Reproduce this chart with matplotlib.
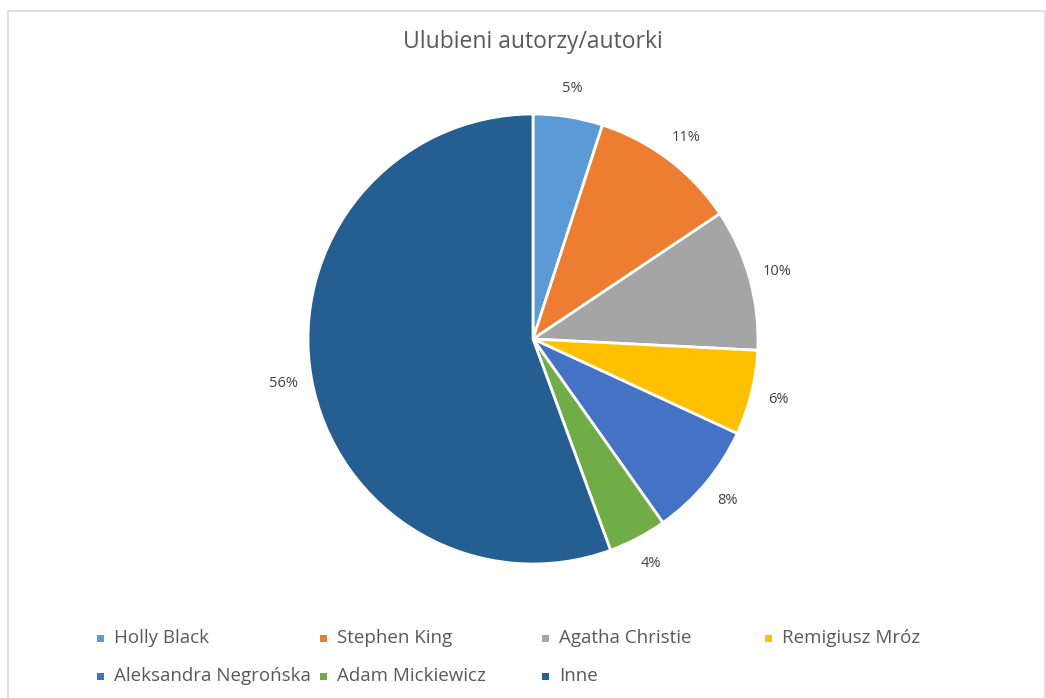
import matplotlib
matplotlib.use("Agg")
import matplotlib.pyplot as plt
from matplotlib.patches import Rectangle

plt.rcParams['font.family'] = ['Open Sans', 'DejaVu Sans']

# data (percent of answers)
authors = ['Holly Black', 'Stephen King', 'Agatha Christie', 'Remigiusz Mróz',
           'Aleksandra Negrońska', 'Adam Mickiewicz', 'Inne']
shares = [5.0, 10.6, 10.2, 6.1, 8.3, 4.2, 55.6]
colors = ['#5B9BD5', '#ED7D31', '#A5A5A5', '#FFC000', '#4472C4', '#70AD47', '#255E91']

W, H = 1046, 698
fig = plt.figure(figsize=(W / 100, H / 100), dpi=100)

# chart frame
fig.patches.append(Rectangle((8 / W, -0.01), (1045 - 8) / W, 1 - 11 / H + 0.01,
                             transform=fig.transFigure, fill=False,
                             edgecolor='#d9d9d9', linewidth=1.2))

cx, cy, r = 533, 339, 225
ax = fig.add_axes([(cx - r) / W, (H - cy - r) / H, 2 * r / W, 2 * r / H])
wedges, texts, autotexts = ax.pie(
    shares, colors=colors, startangle=90, counterclock=False,
    autopct='%1.0f%%', pctdistance=1.125,
    wedgeprops=dict(edgecolor='white', linewidth=2),
    textprops=dict(color='#404040', fontsize=10.5))
ax.set_xlim(-1, 1)
ax.set_ylim(-1, 1)
ax.set_aspect('equal')
ax.axis('off')

fig.text(cx / W, 1 - 42 / H, 'Ulubieni autorzy/autorki', ha='center', va='center',
         fontsize=16.5, color='#595959')

# legend laid out like the spreadsheet one: 4 columns, 2 rows
col_x = [97, 320, 542, 765]
row_y = [638, 676]
for i, (name, c) in enumerate(zip(authors, colors)):
    x = col_x[i % 4]
    y = row_y[i // 4]
    fig.patches.append(Rectangle((x / W, (H - y - 3.5) / H), 7 / W, 7 / H,
                                 transform=fig.transFigure, facecolor=c, edgecolor='none'))
    fig.text((x + 17) / W, 1 - y / H, name, ha='left', va='center',
             fontsize=13.5, color='#595959')

fig.savefig('out.png', dpi=100)
